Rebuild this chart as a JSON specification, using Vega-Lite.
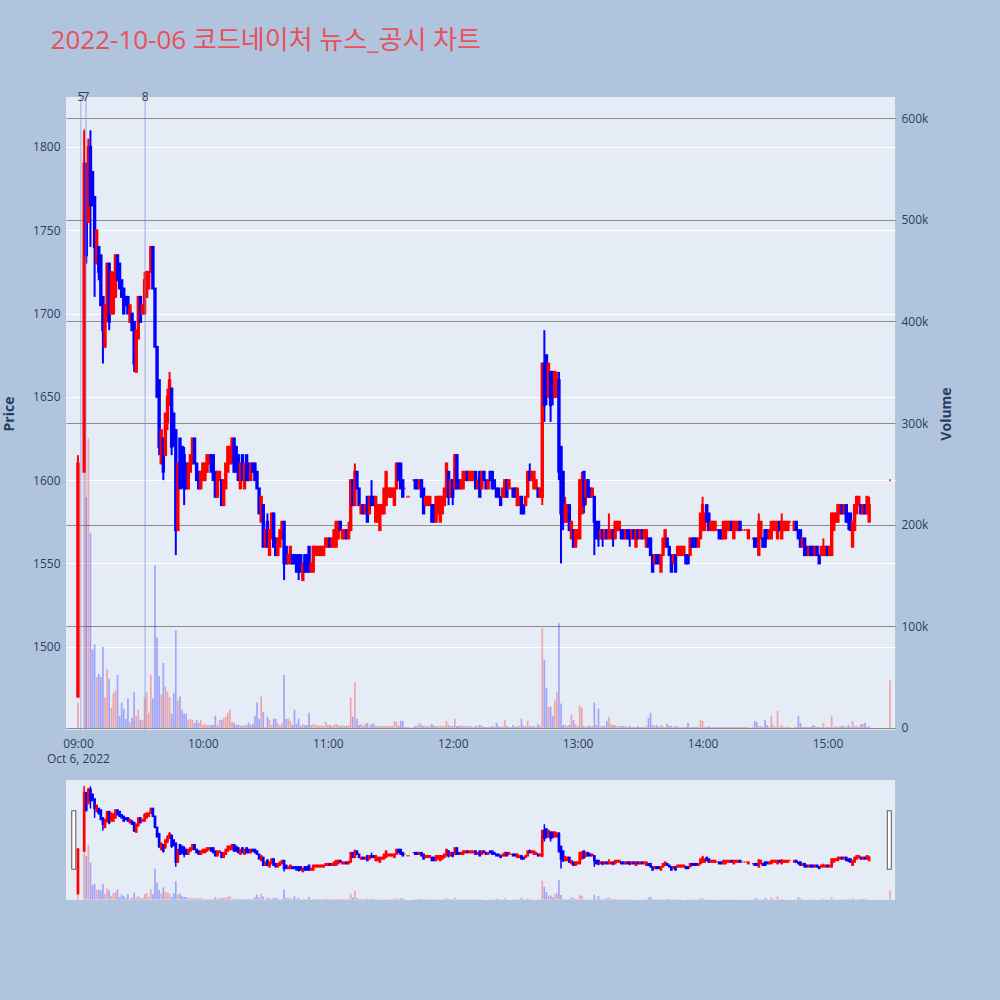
{
  "$schema": "https://vega.github.io/schema/vega-lite/v6.json",
  "description": "Minute candlestick chart with volume and news markers, with a range-slider style overview underneath.",
  "background": "#B0C4DE",
  "padding": {"left": 2, "top": 28, "right": 46, "bottom": 100},
  "spacing": 16,
  "title": {
    "text": "2022-10-06 코드네이처 뉴스_공시 차트",
    "anchor": "start",
    "dx": 48,
    "offset": 37,
    "fontSize": 26,
    "fontWeight": "normal",
    "font": "Open Sans, Noto Sans CJK KR, sans-serif",
    "color": "#e8505b"
  },
  "config": {
    "view": {"fill": "#E5ECF6", "stroke": null},
    "font": "Open Sans, Noto Sans CJK KR, sans-serif",
    "axis": {
      "labelFontSize": 12,
      "labelColor": "#2a3f5f",
      "titleColor": "#2a3f5f",
      "titleFontSize": 14,
      "titleFontWeight": "bold",
      "domain": false,
      "ticks": false
    }
  },
  "datasets": {
    "news": [
      {"t": "2022-10-06T09:01:25", "n": "5"},
      {"t": "2022-10-06T09:03:50", "n": "7"},
      {"t": "2022-10-06T09:32:15", "n": "8"}
    ],
    "bars": [
      {"t":"2022-10-06T09:00","o":1470,"h":1615,"l":1470,"c":1610,"v":25000},
      {"t":"2022-10-06T09:03","o":1605,"h":1810,"l":1605,"c":1790,"v":590000},
      {"t":"2022-10-06T09:04","o":1790,"h":1790,"l":1730,"c":1735,"v":227000},
      {"t":"2022-10-06T09:05","o":1755,"h":1805,"l":1755,"c":1800,"v":285000},
      {"t":"2022-10-06T09:06","o":1800,"h":1810,"l":1740,"c":1765,"v":192000},
      {"t":"2022-10-06T09:07","o":1785,"h":1785,"l":1765,"c":1765,"v":77000},
      {"t":"2022-10-06T09:08","o":1770,"h":1770,"l":1710,"c":1740,"v":82000},
      {"t":"2022-10-06T09:09","o":1730,"h":1750,"l":1730,"c":1750,"v":50000},
      {"t":"2022-10-06T09:10","o":1740,"h":1740,"l":1720,"c":1725,"v":53000},
      {"t":"2022-10-06T09:11","o":1735,"h":1735,"l":1705,"c":1705,"v":50000},
      {"t":"2022-10-06T09:12","o":1710,"h":1710,"l":1670,"c":1690,"v":80000},
      {"t":"2022-10-06T09:13","o":1680,"h":1705,"l":1680,"c":1705,"v":30000},
      {"t":"2022-10-06T09:14","o":1700,"h":1730,"l":1695,"c":1730,"v":58000},
      {"t":"2022-10-06T09:15","o":1730,"h":1730,"l":1690,"c":1695,"v":48000},
      {"t":"2022-10-06T09:16","o":1700,"h":1725,"l":1700,"c":1725,"v":20000},
      {"t":"2022-10-06T09:17","o":1700,"h":1725,"l":1700,"c":1720,"v":34000},
      {"t":"2022-10-06T09:18","o":1710,"h":1735,"l":1710,"c":1735,"v":37000},
      {"t":"2022-10-06T09:19","o":1735,"h":1735,"l":1720,"c":1720,"v":52000},
      {"t":"2022-10-06T09:20","o":1730,"h":1730,"l":1715,"c":1715,"v":12000},
      {"t":"2022-10-06T09:21","o":1720,"h":1720,"l":1710,"c":1710,"v":25000},
      {"t":"2022-10-06T09:22","o":1715,"h":1715,"l":1700,"c":1700,"v":19000},
      {"t":"2022-10-06T09:23","o":1710,"h":1710,"l":1705,"c":1705,"v":9000},
      {"t":"2022-10-06T09:24","o":1710,"h":1710,"l":1700,"c":1700,"v":29000},
      {"t":"2022-10-06T09:25","o":1695,"h":1705,"l":1695,"c":1705,"v":6000},
      {"t":"2022-10-06T09:26","o":1700,"h":1700,"l":1690,"c":1690,"v":10000},
      {"t":"2022-10-06T09:27","o":1695,"h":1695,"l":1665,"c":1670,"v":35000},
      {"t":"2022-10-06T09:28","o":1665,"h":1690,"l":1665,"c":1690,"v":12000},
      {"t":"2022-10-06T09:29","o":1685,"h":1710,"l":1685,"c":1710,"v":18000},
      {"t":"2022-10-06T09:30","o":1710,"h":1710,"l":1695,"c":1695,"v":8000},
      {"t":"2022-10-06T09:31","o":1700,"h":1705,"l":1700,"c":1705,"v":8000},
      {"t":"2022-10-06T09:32","o":1700,"h":1725,"l":1700,"c":1720,"v":30000},
      {"t":"2022-10-06T09:33","o":1710,"h":1725,"l":1710,"c":1725,"v":35000},
      {"t":"2022-10-06T09:34","o":1715,"h":1725,"l":1715,"c":1725,"v":15000},
      {"t":"2022-10-06T09:35","o":1725,"h":1740,"l":1725,"c":1740,"v":52000},
      {"t":"2022-10-06T09:36","o":1740,"h":1740,"l":1715,"c":1715,"v":29000},
      {"t":"2022-10-06T09:37","o":1715,"h":1715,"l":1680,"c":1680,"v":160000},
      {"t":"2022-10-06T09:38","o":1680,"h":1680,"l":1650,"c":1650,"v":89000},
      {"t":"2022-10-06T09:39","o":1660,"h":1660,"l":1615,"c":1620,"v":51000},
      {"t":"2022-10-06T09:40","o":1610,"h":1630,"l":1610,"c":1630,"v":33000},
      {"t":"2022-10-06T09:41","o":1625,"h":1625,"l":1600,"c":1605,"v":64000},
      {"t":"2022-10-06T09:42","o":1615,"h":1640,"l":1615,"c":1640,"v":41000},
      {"t":"2022-10-06T09:43","o":1635,"h":1655,"l":1630,"c":1650,"v":36000},
      {"t":"2022-10-06T09:44","o":1645,"h":1665,"l":1645,"c":1660,"v":30000},
      {"t":"2022-10-06T09:45","o":1655,"h":1655,"l":1615,"c":1620,"v":14000},
      {"t":"2022-10-06T09:46","o":1640,"h":1640,"l":1620,"c":1625,"v":34000},
      {"t":"2022-10-06T09:47","o":1630,"h":1630,"l":1555,"c":1570,"v":96000},
      {"t":"2022-10-06T09:48","o":1570,"h":1610,"l":1570,"c":1610,"v":27000},
      {"t":"2022-10-06T09:49","o":1625,"h":1625,"l":1595,"c":1595,"v":31000},
      {"t":"2022-10-06T09:50","o":1620,"h":1620,"l":1595,"c":1600,"v":18000},
      {"t":"2022-10-06T09:51","o":1615,"h":1620,"l":1585,"c":1595,"v":14000},
      {"t":"2022-10-06T09:52","o":1610,"h":1610,"l":1595,"c":1595,"v":14000},
      {"t":"2022-10-06T09:53","o":1595,"h":1610,"l":1595,"c":1610,"v":8000},
      {"t":"2022-10-06T09:54","o":1605,"h":1615,"l":1605,"c":1615,"v":9000},
      {"t":"2022-10-06T09:55","o":1610,"h":1625,"l":1610,"c":1625,"v":8000},
      {"t":"2022-10-06T09:56","o":1625,"h":1625,"l":1610,"c":1610,"v":5000},
      {"t":"2022-10-06T09:57","o":1610,"h":1610,"l":1600,"c":1600,"v":8000},
      {"t":"2022-10-06T09:58","o":1605,"h":1605,"l":1595,"c":1595,"v":5000},
      {"t":"2022-10-06T09:59","o":1595,"h":1605,"l":1595,"c":1605,"v":8000},
      {"t":"2022-10-06T10:00","o":1600,"h":1610,"l":1600,"c":1610,"v":3000},
      {"t":"2022-10-06T10:01","o":1600,"h":1610,"l":1600,"c":1610,"v":4000},
      {"t":"2022-10-06T10:02","o":1605,"h":1615,"l":1605,"c":1615,"v":3000},
      {"t":"2022-10-06T10:03","o":1610,"h":1615,"l":1610,"c":1615,"v":3000},
      {"t":"2022-10-06T10:04","o":1615,"h":1615,"l":1605,"c":1605,"v":3000},
      {"t":"2022-10-06T10:05","o":1615,"h":1615,"l":1600,"c":1600,"v":3000},
      {"t":"2022-10-06T10:06","o":1605,"h":1605,"l":1590,"c":1590,"v":12000},
      {"t":"2022-10-06T10:07","o":1590,"h":1605,"l":1590,"c":1605,"v":3000},
      {"t":"2022-10-06T10:08","o":1600,"h":1605,"l":1600,"c":1605,"v":8000},
      {"t":"2022-10-06T10:09","o":1600,"h":1600,"l":1585,"c":1585,"v":8000},
      {"t":"2022-10-06T10:10","o":1585,"h":1600,"l":1585,"c":1600,"v":10000},
      {"t":"2022-10-06T10:11","o":1595,"h":1610,"l":1595,"c":1610,"v":11000},
      {"t":"2022-10-06T10:12","o":1605,"h":1620,"l":1605,"c":1620,"v":15000},
      {"t":"2022-10-06T10:13","o":1610,"h":1620,"l":1610,"c":1620,"v":18000},
      {"t":"2022-10-06T10:14","o":1610,"h":1625,"l":1610,"c":1625,"v":6000},
      {"t":"2022-10-06T10:15","o":1625,"h":1625,"l":1605,"c":1605,"v":5000},
      {"t":"2022-10-06T10:16","o":1620,"h":1620,"l":1605,"c":1605,"v":3000},
      {"t":"2022-10-06T10:17","o":1615,"h":1615,"l":1600,"c":1600,"v":3000},
      {"t":"2022-10-06T10:18","o":1595,"h":1610,"l":1595,"c":1610,"v":3000},
      {"t":"2022-10-06T10:19","o":1615,"h":1615,"l":1600,"c":1600,"v":2000},
      {"t":"2022-10-06T10:20","o":1595,"h":1610,"l":1595,"c":1610,"v":3000},
      {"t":"2022-10-06T10:21","o":1615,"h":1615,"l":1600,"c":1600,"v":3000},
      {"t":"2022-10-06T10:22","o":1610,"h":1610,"l":1600,"c":1600,"v":5000},
      {"t":"2022-10-06T10:23","o":1600,"h":1610,"l":1600,"c":1610,"v":3000},
      {"t":"2022-10-06T10:24","o":1610,"h":1610,"l":1605,"c":1605,"v":4000},
      {"t":"2022-10-06T10:25","o":1610,"h":1610,"l":1600,"c":1600,"v":12000},
      {"t":"2022-10-06T10:26","o":1605,"h":1605,"l":1595,"c":1595,"v":25000},
      {"t":"2022-10-06T10:27","o":1595,"h":1595,"l":1580,"c":1580,"v":9000},
      {"t":"2022-10-06T10:28","o":1575,"h":1590,"l":1575,"c":1590,"v":31000},
      {"t":"2022-10-06T10:29","o":1585,"h":1585,"l":1560,"c":1560,"v":16000},
      {"t":"2022-10-06T10:30","o":1560,"h":1570,"l":1560,"c":1570,"v":1000},
      {"t":"2022-10-06T10:31","o":1575,"h":1580,"l":1560,"c":1560,"v":11000},
      {"t":"2022-10-06T10:32","o":1555,"h":1570,"l":1555,"c":1570,"v":8000},
      {"t":"2022-10-06T10:33","o":1565,"h":1580,"l":1565,"c":1580,"v":3000},
      {"t":"2022-10-06T10:34","o":1580,"h":1580,"l":1560,"c":1560,"v":9000},
      {"t":"2022-10-06T10:35","o":1565,"h":1565,"l":1555,"c":1555,"v":9000},
      {"t":"2022-10-06T10:36","o":1555,"h":1565,"l":1555,"c":1565,"v":5000},
      {"t":"2022-10-06T10:37","o":1560,"h":1570,"l":1560,"c":1570,"v":3000},
      {"t":"2022-10-06T10:38","o":1565,"h":1575,"l":1565,"c":1575,"v":5000},
      {"t":"2022-10-06T10:39","o":1575,"h":1575,"l":1540,"c":1550,"v":52000},
      {"t":"2022-10-06T10:40","o":1560,"h":1560,"l":1550,"c":1550,"v":9000},
      {"t":"2022-10-06T10:41","o":1550,"h":1555,"l":1550,"c":1555,"v":9000},
      {"t":"2022-10-06T10:42","o":1550,"h":1560,"l":1550,"c":1560,"v":7000},
      {"t":"2022-10-06T10:43","o":1555,"h":1555,"l":1550,"c":1550,"v":3000},
      {"t":"2022-10-06T10:44","o":1555,"h":1555,"l":1550,"c":1550,"v":18000},
      {"t":"2022-10-06T10:45","o":1555,"h":1555,"l":1545,"c":1545,"v":4000},
      {"t":"2022-10-06T10:46","o":1555,"h":1555,"l":1540,"c":1545,"v":9000},
      {"t":"2022-10-06T10:47","o":1555,"h":1555,"l":1545,"c":1545,"v":2000},
      {"t":"2022-10-06T10:48","o":1540,"h":1550,"l":1540,"c":1550,"v":4000},
      {"t":"2022-10-06T10:49","o":1555,"h":1555,"l":1545,"c":1545,"v":3000},
      {"t":"2022-10-06T10:50","o":1555,"h":1555,"l":1545,"c":1545,"v":3000},
      {"t":"2022-10-06T10:51","o":1560,"h":1560,"l":1545,"c":1545,"v":15000},
      {"t":"2022-10-06T10:52","o":1545,"h":1550,"l":1545,"c":1550,"v":3000},
      {"t":"2022-10-06T10:53","o":1545,"h":1560,"l":1545,"c":1560,"v":4000},
      {"t":"2022-10-06T10:54","o":1555,"h":1560,"l":1555,"c":1560,"v":3000},
      {"t":"2022-10-06T10:55","o":1555,"h":1560,"l":1555,"c":1560,"v":3000},
      {"t":"2022-10-06T10:56","o":1555,"h":1560,"l":1555,"c":1560,"v":2000},
      {"t":"2022-10-06T10:57","o":1555,"h":1560,"l":1555,"c":1560,"v":3000},
      {"t":"2022-10-06T10:58","o":1555,"h":1560,"l":1555,"c":1560,"v":2000},
      {"t":"2022-10-06T10:59","o":1560,"h":1565,"l":1560,"c":1565,"v":6000},
      {"t":"2022-10-06T11:00","o":1560,"h":1565,"l":1560,"c":1565,"v":3000},
      {"t":"2022-10-06T11:01","o":1565,"h":1565,"l":1560,"c":1560,"v":3000},
      {"t":"2022-10-06T11:02","o":1560,"h":1565,"l":1560,"c":1565,"v":2000},
      {"t":"2022-10-06T11:03","o":1560,"h":1570,"l":1560,"c":1570,"v":3000},
      {"t":"2022-10-06T11:04","o":1560,"h":1575,"l":1560,"c":1575,"v":4000},
      {"t":"2022-10-06T11:05","o":1565,"h":1575,"l":1565,"c":1575,"v":3000},
      {"t":"2022-10-06T11:06","o":1575,"h":1575,"l":1570,"c":1570,"v":2000},
      {"t":"2022-10-06T11:07","o":1565,"h":1570,"l":1565,"c":1570,"v":3000},
      {"t":"2022-10-06T11:08","o":1565,"h":1570,"l":1565,"c":1570,"v":2000},
      {"t":"2022-10-06T11:09","o":1570,"h":1570,"l":1565,"c":1565,"v":2000},
      {"t":"2022-10-06T11:10","o":1565,"h":1575,"l":1565,"c":1570,"v":3000},
      {"t":"2022-10-06T11:11","o":1570,"h":1600,"l":1570,"c":1600,"v":30000},
      {"t":"2022-10-06T11:12","o":1600,"h":1600,"l":1585,"c":1585,"v":11000},
      {"t":"2022-10-06T11:13","o":1585,"h":1610,"l":1585,"c":1605,"v":45000},
      {"t":"2022-10-06T11:14","o":1605,"h":1605,"l":1595,"c":1595,"v":9000},
      {"t":"2022-10-06T11:15","o":1595,"h":1595,"l":1585,"c":1585,"v":3000},
      {"t":"2022-10-06T11:16","o":1580,"h":1585,"l":1580,"c":1585,"v":4000},
      {"t":"2022-10-06T11:17","o":1585,"h":1585,"l":1580,"c":1580,"v":2000},
      {"t":"2022-10-06T11:18","o":1580,"h":1585,"l":1580,"c":1585,"v":4000},
      {"t":"2022-10-06T11:19","o":1590,"h":1590,"l":1575,"c":1575,"v":5000},
      {"t":"2022-10-06T11:20","o":1580,"h":1590,"l":1580,"c":1590,"v":2000},
      {"t":"2022-10-06T11:21","o":1590,"h":1600,"l":1585,"c":1585,"v":4000},
      {"t":"2022-10-06T11:22","o":1590,"h":1590,"l":1585,"c":1585,"v":4000},
      {"t":"2022-10-06T11:23","o":1575,"h":1590,"l":1575,"c":1590,"v":2000},
      {"t":"2022-10-06T11:24","o":1575,"h":1585,"l":1575,"c":1585,"v":2000},
      {"t":"2022-10-06T11:25","o":1570,"h":1585,"l":1570,"c":1585,"v":2000},
      {"t":"2022-10-06T11:26","o":1580,"h":1585,"l":1580,"c":1585,"v":2000},
      {"t":"2022-10-06T11:27","o":1580,"h":1595,"l":1580,"c":1595,"v":2000},
      {"t":"2022-10-06T11:28","o":1585,"h":1605,"l":1585,"c":1605,"v":2000},
      {"t":"2022-10-06T11:29","o":1590,"h":1595,"l":1590,"c":1595,"v":2000},
      {"t":"2022-10-06T11:30","o":1590,"h":1595,"l":1590,"c":1595,"v":2000},
      {"t":"2022-10-06T11:31","o":1590,"h":1595,"l":1590,"c":1595,"v":2000},
      {"t":"2022-10-06T11:32","o":1585,"h":1595,"l":1585,"c":1595,"v":7000},
      {"t":"2022-10-06T11:33","o":1595,"h":1610,"l":1595,"c":1610,"v":6000},
      {"t":"2022-10-06T11:34","o":1610,"h":1610,"l":1600,"c":1600,"v":2000},
      {"t":"2022-10-06T11:35","o":1610,"h":1610,"l":1595,"c":1595,"v":7000},
      {"t":"2022-10-06T11:36","o":1600,"h":1600,"l":1590,"c":1590,"v":7000},
      {"t":"2022-10-06T11:37","o":1595,"h":1595,"l":1595,"c":1595,"v":1000},
      {"t":"2022-10-06T11:38","o":1590,"h":1590,"l":1590,"c":1590,"v":1000},
      {"t":"2022-10-06T11:39","o":1590,"h":1590,"l":1590,"c":1590,"v":1000},
      {"t":"2022-10-06T11:41","o":1600,"h":1600,"l":1600,"c":1600,"v":1000},
      {"t":"2022-10-06T11:42","o":1600,"h":1600,"l":1595,"c":1595,"v":2000},
      {"t":"2022-10-06T11:43","o":1600,"h":1600,"l":1595,"c":1595,"v":2000},
      {"t":"2022-10-06T11:44","o":1595,"h":1600,"l":1595,"c":1600,"v":5000},
      {"t":"2022-10-06T11:45","o":1600,"h":1600,"l":1590,"c":1590,"v":3000},
      {"t":"2022-10-06T11:46","o":1595,"h":1595,"l":1580,"c":1580,"v":2000},
      {"t":"2022-10-06T11:47","o":1585,"h":1590,"l":1585,"c":1590,"v":2000},
      {"t":"2022-10-06T11:48","o":1585,"h":1590,"l":1585,"c":1590,"v":2000},
      {"t":"2022-10-06T11:49","o":1585,"h":1590,"l":1585,"c":1590,"v":2000},
      {"t":"2022-10-06T11:50","o":1585,"h":1585,"l":1575,"c":1575,"v":4000},
      {"t":"2022-10-06T11:51","o":1585,"h":1585,"l":1575,"c":1575,"v":2000},
      {"t":"2022-10-06T11:52","o":1575,"h":1590,"l":1575,"c":1590,"v":2000},
      {"t":"2022-10-06T11:53","o":1580,"h":1590,"l":1580,"c":1590,"v":2000},
      {"t":"2022-10-06T11:54","o":1575,"h":1590,"l":1575,"c":1590,"v":2000},
      {"t":"2022-10-06T11:55","o":1580,"h":1590,"l":1580,"c":1590,"v":2000},
      {"t":"2022-10-06T11:56","o":1585,"h":1595,"l":1585,"c":1595,"v":2000},
      {"t":"2022-10-06T11:57","o":1590,"h":1610,"l":1590,"c":1610,"v":7000},
      {"t":"2022-10-06T11:58","o":1605,"h":1605,"l":1585,"c":1590,"v":3000},
      {"t":"2022-10-06T11:59","o":1590,"h":1600,"l":1590,"c":1600,"v":2000},
      {"t":"2022-10-06T12:00","o":1600,"h":1600,"l":1585,"c":1590,"v":2000},
      {"t":"2022-10-06T12:01","o":1595,"h":1615,"l":1595,"c":1615,"v":9000},
      {"t":"2022-10-06T12:02","o":1615,"h":1615,"l":1595,"c":1595,"v":2000},
      {"t":"2022-10-06T12:03","o":1600,"h":1600,"l":1595,"c":1595,"v":2000},
      {"t":"2022-10-06T12:04","o":1595,"h":1600,"l":1595,"c":1600,"v":3000},
      {"t":"2022-10-06T12:05","o":1595,"h":1605,"l":1595,"c":1605,"v":2000},
      {"t":"2022-10-06T12:06","o":1600,"h":1605,"l":1600,"c":1605,"v":2000},
      {"t":"2022-10-06T12:07","o":1605,"h":1605,"l":1600,"c":1600,"v":2000},
      {"t":"2022-10-06T12:08","o":1600,"h":1605,"l":1600,"c":1605,"v":2000},
      {"t":"2022-10-06T12:09","o":1600,"h":1605,"l":1600,"c":1605,"v":2000},
      {"t":"2022-10-06T12:10","o":1600,"h":1605,"l":1600,"c":1605,"v":1000},
      {"t":"2022-10-06T12:11","o":1605,"h":1605,"l":1595,"c":1595,"v":2000},
      {"t":"2022-10-06T12:12","o":1595,"h":1600,"l":1595,"c":1600,"v":2000},
      {"t":"2022-10-06T12:13","o":1605,"h":1605,"l":1590,"c":1590,"v":3000},
      {"t":"2022-10-06T12:14","o":1595,"h":1605,"l":1595,"c":1605,"v":2000},
      {"t":"2022-10-06T12:15","o":1605,"h":1605,"l":1600,"c":1600,"v":1000},
      {"t":"2022-10-06T12:16","o":1600,"h":1600,"l":1595,"c":1595,"v":1000},
      {"t":"2022-10-06T12:17","o":1595,"h":1600,"l":1595,"c":1600,"v":1000},
      {"t":"2022-10-06T12:18","o":1605,"h":1605,"l":1600,"c":1600,"v":1000},
      {"t":"2022-10-06T12:19","o":1605,"h":1605,"l":1595,"c":1595,"v":2000},
      {"t":"2022-10-06T12:20","o":1600,"h":1600,"l":1595,"c":1595,"v":1000},
      {"t":"2022-10-06T12:21","o":1595,"h":1595,"l":1590,"c":1590,"v":5000},
      {"t":"2022-10-06T12:22","o":1595,"h":1595,"l":1590,"c":1590,"v":2000},
      {"t":"2022-10-06T12:23","o":1590,"h":1590,"l":1585,"c":1585,"v":1000},
      {"t":"2022-10-06T12:24","o":1590,"h":1595,"l":1590,"c":1595,"v":2000},
      {"t":"2022-10-06T12:25","o":1590,"h":1600,"l":1590,"c":1600,"v":8000},
      {"t":"2022-10-06T12:26","o":1600,"h":1600,"l":1590,"c":1590,"v":2000},
      {"t":"2022-10-06T12:27","o":1595,"h":1600,"l":1595,"c":1600,"v":1000},
      {"t":"2022-10-06T12:28","o":1595,"h":1595,"l":1595,"c":1595,"v":1000},
      {"t":"2022-10-06T12:29","o":1595,"h":1595,"l":1590,"c":1590,"v":3000},
      {"t":"2022-10-06T12:30","o":1595,"h":1595,"l":1590,"c":1590,"v":1000},
      {"t":"2022-10-06T12:31","o":1585,"h":1595,"l":1585,"c":1595,"v":2000},
      {"t":"2022-10-06T12:32","o":1585,"h":1590,"l":1585,"c":1590,"v":2000},
      {"t":"2022-10-06T12:33","o":1590,"h":1590,"l":1580,"c":1580,"v":9000},
      {"t":"2022-10-06T12:34","o":1585,"h":1585,"l":1580,"c":1580,"v":2000},
      {"t":"2022-10-06T12:35","o":1585,"h":1590,"l":1585,"c":1590,"v":2000},
      {"t":"2022-10-06T12:36","o":1590,"h":1605,"l":1590,"c":1605,"v":7000},
      {"t":"2022-10-06T12:37","o":1605,"h":1610,"l":1600,"c":1600,"v":2000},
      {"t":"2022-10-06T12:38","o":1600,"h":1605,"l":1600,"c":1605,"v":2000},
      {"t":"2022-10-06T12:39","o":1595,"h":1605,"l":1595,"c":1605,"v":2000},
      {"t":"2022-10-06T12:40","o":1595,"h":1600,"l":1595,"c":1600,"v":1000},
      {"t":"2022-10-06T12:41","o":1595,"h":1595,"l":1590,"c":1590,"v":4000},
      {"t":"2022-10-06T12:42","o":1590,"h":1595,"l":1590,"c":1595,"v":2000},
      {"t":"2022-10-06T12:43","o":1590,"h":1670,"l":1585,"c":1670,"v":98000},
      {"t":"2022-10-06T12:44","o":1670,"h":1690,"l":1635,"c":1645,"v":67000},
      {"t":"2022-10-06T12:45","o":1675,"h":1675,"l":1645,"c":1650,"v":39000},
      {"t":"2022-10-06T12:46","o":1650,"h":1670,"l":1650,"c":1670,"v":21000},
      {"t":"2022-10-06T12:47","o":1665,"h":1665,"l":1635,"c":1645,"v":21000},
      {"t":"2022-10-06T12:48","o":1665,"h":1665,"l":1645,"c":1650,"v":12000},
      {"t":"2022-10-06T12:49","o":1650,"h":1665,"l":1650,"c":1665,"v":27000},
      {"t":"2022-10-06T12:50","o":1650,"h":1665,"l":1650,"c":1660,"v":35000},
      {"t":"2022-10-06T12:51","o":1660,"h":1665,"l":1600,"c":1605,"v":103000},
      {"t":"2022-10-06T12:52","o":1620,"h":1620,"l":1550,"c":1580,"v":24000},
      {"t":"2022-10-06T12:53","o":1605,"h":1605,"l":1570,"c":1575,"v":3000},
      {"t":"2022-10-06T12:54","o":1575,"h":1590,"l":1575,"c":1585,"v":3000},
      {"t":"2022-10-06T12:55","o":1575,"h":1585,"l":1575,"c":1585,"v":2000},
      {"t":"2022-10-06T12:56","o":1585,"h":1585,"l":1570,"c":1570,"v":3000},
      {"t":"2022-10-06T12:57","o":1565,"h":1575,"l":1565,"c":1575,"v":13000},
      {"t":"2022-10-06T12:58","o":1570,"h":1570,"l":1560,"c":1560,"v":8000},
      {"t":"2022-10-06T12:59","o":1560,"h":1570,"l":1560,"c":1570,"v":4000},
      {"t":"2022-10-06T13:00","o":1565,"h":1570,"l":1565,"c":1570,"v":2000},
      {"t":"2022-10-06T13:01","o":1565,"h":1600,"l":1565,"c":1600,"v":22000},
      {"t":"2022-10-06T13:02","o":1580,"h":1605,"l":1580,"c":1600,"v":20000},
      {"t":"2022-10-06T13:03","o":1605,"h":1605,"l":1580,"c":1585,"v":2000},
      {"t":"2022-10-06T13:04","o":1590,"h":1600,"l":1585,"c":1600,"v":1000},
      {"t":"2022-10-06T13:05","o":1600,"h":1600,"l":1590,"c":1590,"v":2000},
      {"t":"2022-10-06T13:06","o":1595,"h":1595,"l":1590,"c":1590,"v":2000},
      {"t":"2022-10-06T13:07","o":1590,"h":1595,"l":1590,"c":1595,"v":2000},
      {"t":"2022-10-06T13:08","o":1590,"h":1590,"l":1555,"c":1575,"v":25000},
      {"t":"2022-10-06T13:09","o":1575,"h":1575,"l":1565,"c":1565,"v":3000},
      {"t":"2022-10-06T13:10","o":1575,"h":1575,"l":1560,"c":1565,"v":19000},
      {"t":"2022-10-06T13:11","o":1565,"h":1570,"l":1565,"c":1570,"v":2000},
      {"t":"2022-10-06T13:12","o":1570,"h":1570,"l":1560,"c":1565,"v":2000},
      {"t":"2022-10-06T13:13","o":1565,"h":1570,"l":1565,"c":1570,"v":2000},
      {"t":"2022-10-06T13:14","o":1570,"h":1570,"l":1565,"c":1565,"v":7000},
      {"t":"2022-10-06T13:15","o":1565,"h":1580,"l":1565,"c":1570,"v":11000},
      {"t":"2022-10-06T13:16","o":1565,"h":1570,"l":1565,"c":1570,"v":4000},
      {"t":"2022-10-06T13:17","o":1570,"h":1570,"l":1560,"c":1565,"v":3000},
      {"t":"2022-10-06T13:18","o":1565,"h":1575,"l":1565,"c":1575,"v":3000},
      {"t":"2022-10-06T13:19","o":1570,"h":1575,"l":1570,"c":1575,"v":2000},
      {"t":"2022-10-06T13:20","o":1570,"h":1575,"l":1570,"c":1575,"v":2000},
      {"t":"2022-10-06T13:21","o":1570,"h":1570,"l":1565,"c":1565,"v":2000},
      {"t":"2022-10-06T13:22","o":1570,"h":1570,"l":1565,"c":1565,"v":2000},
      {"t":"2022-10-06T13:23","o":1565,"h":1570,"l":1565,"c":1570,"v":2000},
      {"t":"2022-10-06T13:24","o":1570,"h":1570,"l":1565,"c":1565,"v":1000},
      {"t":"2022-10-06T13:25","o":1570,"h":1570,"l":1560,"c":1565,"v":2000},
      {"t":"2022-10-06T13:26","o":1565,"h":1570,"l":1565,"c":1570,"v":1000},
      {"t":"2022-10-06T13:27","o":1570,"h":1570,"l":1565,"c":1565,"v":1000},
      {"t":"2022-10-06T13:28","o":1560,"h":1570,"l":1560,"c":1570,"v":1000},
      {"t":"2022-10-06T13:29","o":1570,"h":1570,"l":1565,"c":1565,"v":2000},
      {"t":"2022-10-06T13:30","o":1565,"h":1570,"l":1565,"c":1570,"v":1000},
      {"t":"2022-10-06T13:31","o":1570,"h":1570,"l":1565,"c":1565,"v":1000},
      {"t":"2022-10-06T13:32","o":1565,"h":1570,"l":1565,"c":1570,"v":1000},
      {"t":"2022-10-06T13:33","o":1560,"h":1570,"l":1560,"c":1570,"v":2000},
      {"t":"2022-10-06T13:34","o":1565,"h":1565,"l":1560,"c":1560,"v":10000},
      {"t":"2022-10-06T13:35","o":1565,"h":1565,"l":1555,"c":1555,"v":15000},
      {"t":"2022-10-06T13:36","o":1555,"h":1555,"l":1545,"c":1545,"v":3000},
      {"t":"2022-10-06T13:37","o":1550,"h":1555,"l":1550,"c":1555,"v":2000},
      {"t":"2022-10-06T13:38","o":1555,"h":1555,"l":1550,"c":1550,"v":3000},
      {"t":"2022-10-06T13:39","o":1555,"h":1555,"l":1550,"c":1550,"v":1000},
      {"t":"2022-10-06T13:40","o":1545,"h":1555,"l":1545,"c":1555,"v":3000},
      {"t":"2022-10-06T13:41","o":1555,"h":1565,"l":1555,"c":1565,"v":2000},
      {"t":"2022-10-06T13:42","o":1560,"h":1570,"l":1560,"c":1570,"v":1000},
      {"t":"2022-10-06T13:43","o":1565,"h":1565,"l":1560,"c":1560,"v":4000},
      {"t":"2022-10-06T13:44","o":1560,"h":1560,"l":1555,"c":1555,"v":2000},
      {"t":"2022-10-06T13:45","o":1555,"h":1555,"l":1545,"c":1545,"v":2000},
      {"t":"2022-10-06T13:46","o":1550,"h":1555,"l":1550,"c":1555,"v":1000},
      {"t":"2022-10-06T13:47","o":1555,"h":1555,"l":1545,"c":1545,"v":2000},
      {"t":"2022-10-06T13:48","o":1555,"h":1560,"l":1555,"c":1560,"v":2000},
      {"t":"2022-10-06T13:49","o":1555,"h":1560,"l":1555,"c":1560,"v":1000},
      {"t":"2022-10-06T13:50","o":1555,"h":1560,"l":1555,"c":1560,"v":1000},
      {"t":"2022-10-06T13:51","o":1555,"h":1560,"l":1555,"c":1560,"v":1000},
      {"t":"2022-10-06T13:52","o":1555,"h":1555,"l":1550,"c":1550,"v":1000},
      {"t":"2022-10-06T13:53","o":1555,"h":1555,"l":1550,"c":1550,"v":5000},
      {"t":"2022-10-06T13:54","o":1555,"h":1565,"l":1555,"c":1565,"v":1000},
      {"t":"2022-10-06T13:55","o":1565,"h":1565,"l":1560,"c":1560,"v":1000},
      {"t":"2022-10-06T13:56","o":1565,"h":1565,"l":1560,"c":1560,"v":1000},
      {"t":"2022-10-06T13:57","o":1565,"h":1565,"l":1560,"c":1560,"v":1000},
      {"t":"2022-10-06T13:58","o":1560,"h":1565,"l":1560,"c":1565,"v":1000},
      {"t":"2022-10-06T13:59","o":1565,"h":1580,"l":1565,"c":1580,"v":8000},
      {"t":"2022-10-06T14:00","o":1570,"h":1590,"l":1570,"c":1585,"v":7000},
      {"t":"2022-10-06T14:01","o":1570,"h":1580,"l":1570,"c":1580,"v":1000},
      {"t":"2022-10-06T14:02","o":1585,"h":1585,"l":1575,"c":1575,"v":1000},
      {"t":"2022-10-06T14:03","o":1580,"h":1580,"l":1570,"c":1570,"v":2000},
      {"t":"2022-10-06T14:04","o":1570,"h":1575,"l":1570,"c":1575,"v":1000},
      {"t":"2022-10-06T14:05","o":1570,"h":1575,"l":1570,"c":1575,"v":1000},
      {"t":"2022-10-06T14:06","o":1570,"h":1575,"l":1570,"c":1575,"v":1000},
      {"t":"2022-10-06T14:07","o":1570,"h":1570,"l":1570,"c":1570,"v":1000},
      {"t":"2022-10-06T14:08","o":1570,"h":1570,"l":1565,"c":1565,"v":1000},
      {"t":"2022-10-06T14:09","o":1570,"h":1570,"l":1565,"c":1565,"v":1000},
      {"t":"2022-10-06T14:10","o":1565,"h":1575,"l":1565,"c":1575,"v":1000},
      {"t":"2022-10-06T14:11","o":1565,"h":1575,"l":1565,"c":1575,"v":1000},
      {"t":"2022-10-06T14:12","o":1570,"h":1575,"l":1570,"c":1575,"v":1000},
      {"t":"2022-10-06T14:13","o":1570,"h":1575,"l":1570,"c":1575,"v":1000},
      {"t":"2022-10-06T14:14","o":1575,"h":1575,"l":1570,"c":1570,"v":1000},
      {"t":"2022-10-06T14:15","o":1565,"h":1575,"l":1565,"c":1575,"v":1000},
      {"t":"2022-10-06T14:16","o":1570,"h":1575,"l":1570,"c":1575,"v":1000},
      {"t":"2022-10-06T14:17","o":1570,"h":1575,"l":1570,"c":1575,"v":1000},
      {"t":"2022-10-06T14:18","o":1575,"h":1575,"l":1570,"c":1570,"v":1000},
      {"t":"2022-10-06T14:19","o":1570,"h":1570,"l":1570,"c":1570,"v":1000},
      {"t":"2022-10-06T14:20","o":1570,"h":1570,"l":1570,"c":1570,"v":1000},
      {"t":"2022-10-06T14:21","o":1570,"h":1570,"l":1570,"c":1570,"v":1000},
      {"t":"2022-10-06T14:22","o":1565,"h":1570,"l":1565,"c":1570,"v":1000},
      {"t":"2022-10-06T14:24","o":1565,"h":1565,"l":1565,"c":1565,"v":1000},
      {"t":"2022-10-06T14:25","o":1565,"h":1565,"l":1560,"c":1560,"v":7000},
      {"t":"2022-10-06T14:26","o":1565,"h":1565,"l":1560,"c":1560,"v":6000},
      {"t":"2022-10-06T14:27","o":1555,"h":1580,"l":1555,"c":1575,"v":2000},
      {"t":"2022-10-06T14:28","o":1565,"h":1575,"l":1565,"c":1575,"v":2000},
      {"t":"2022-10-06T14:29","o":1565,"h":1565,"l":1560,"c":1560,"v":1000},
      {"t":"2022-10-06T14:30","o":1570,"h":1570,"l":1560,"c":1560,"v":8000},
      {"t":"2022-10-06T14:31","o":1570,"h":1570,"l":1565,"c":1565,"v":3000},
      {"t":"2022-10-06T14:32","o":1565,"h":1570,"l":1565,"c":1570,"v":1000},
      {"t":"2022-10-06T14:33","o":1565,"h":1575,"l":1565,"c":1575,"v":12000},
      {"t":"2022-10-06T14:34","o":1570,"h":1575,"l":1570,"c":1575,"v":3000},
      {"t":"2022-10-06T14:35","o":1570,"h":1575,"l":1570,"c":1575,"v":1000},
      {"t":"2022-10-06T14:36","o":1565,"h":1575,"l":1565,"c":1575,"v":17000},
      {"t":"2022-10-06T14:37","o":1575,"h":1575,"l":1570,"c":1570,"v":1000},
      {"t":"2022-10-06T14:38","o":1565,"h":1580,"l":1565,"c":1575,"v":3000},
      {"t":"2022-10-06T14:39","o":1570,"h":1575,"l":1570,"c":1575,"v":1000},
      {"t":"2022-10-06T14:40","o":1570,"h":1575,"l":1570,"c":1575,"v":1000},
      {"t":"2022-10-06T14:41","o":1570,"h":1575,"l":1570,"c":1575,"v":1000},
      {"t":"2022-10-06T14:42","o":1575,"h":1575,"l":1575,"c":1575,"v":1000},
      {"t":"2022-10-06T14:44","o":1570,"h":1575,"l":1570,"c":1575,"v":1000},
      {"t":"2022-10-06T14:45","o":1575,"h":1575,"l":1570,"c":1570,"v":1000},
      {"t":"2022-10-06T14:46","o":1570,"h":1570,"l":1565,"c":1565,"v":12000},
      {"t":"2022-10-06T14:47","o":1570,"h":1570,"l":1560,"c":1560,"v":5000},
      {"t":"2022-10-06T14:48","o":1560,"h":1565,"l":1560,"c":1565,"v":1000},
      {"t":"2022-10-06T14:49","o":1565,"h":1565,"l":1555,"c":1555,"v":1000},
      {"t":"2022-10-06T14:50","o":1560,"h":1560,"l":1555,"c":1555,"v":1000},
      {"t":"2022-10-06T14:51","o":1555,"h":1560,"l":1555,"c":1560,"v":1000},
      {"t":"2022-10-06T14:52","o":1560,"h":1560,"l":1555,"c":1555,"v":1000},
      {"t":"2022-10-06T14:53","o":1560,"h":1560,"l":1555,"c":1555,"v":3000},
      {"t":"2022-10-06T14:54","o":1555,"h":1560,"l":1555,"c":1560,"v":2000},
      {"t":"2022-10-06T14:55","o":1560,"h":1560,"l":1555,"c":1555,"v":1000},
      {"t":"2022-10-06T14:56","o":1555,"h":1555,"l":1550,"c":1550,"v":1000},
      {"t":"2022-10-06T14:57","o":1555,"h":1560,"l":1555,"c":1560,"v":1000},
      {"t":"2022-10-06T14:58","o":1555,"h":1565,"l":1555,"c":1560,"v":5000},
      {"t":"2022-10-06T14:59","o":1555,"h":1560,"l":1555,"c":1560,"v":1000},
      {"t":"2022-10-06T15:00","o":1560,"h":1560,"l":1555,"c":1555,"v":1000},
      {"t":"2022-10-06T15:01","o":1555,"h":1560,"l":1555,"c":1560,"v":1000},
      {"t":"2022-10-06T15:02","o":1555,"h":1580,"l":1555,"c":1580,"v":12000},
      {"t":"2022-10-06T15:03","o":1570,"h":1580,"l":1570,"c":1580,"v":1000},
      {"t":"2022-10-06T15:04","o":1575,"h":1580,"l":1575,"c":1580,"v":2000},
      {"t":"2022-10-06T15:05","o":1575,"h":1585,"l":1575,"c":1585,"v":1000},
      {"t":"2022-10-06T15:06","o":1580,"h":1585,"l":1580,"c":1585,"v":2000},
      {"t":"2022-10-06T15:07","o":1585,"h":1585,"l":1580,"c":1580,"v":2000},
      {"t":"2022-10-06T15:08","o":1580,"h":1585,"l":1580,"c":1585,"v":2000},
      {"t":"2022-10-06T15:09","o":1585,"h":1585,"l":1575,"c":1575,"v":1000},
      {"t":"2022-10-06T15:10","o":1580,"h":1580,"l":1570,"c":1575,"v":3000},
      {"t":"2022-10-06T15:11","o":1580,"h":1580,"l":1570,"c":1570,"v":1000},
      {"t":"2022-10-06T15:12","o":1560,"h":1575,"l":1560,"c":1575,"v":7000},
      {"t":"2022-10-06T15:13","o":1570,"h":1585,"l":1570,"c":1585,"v":2000},
      {"t":"2022-10-06T15:14","o":1580,"h":1590,"l":1580,"c":1590,"v":2000},
      {"t":"2022-10-06T15:15","o":1585,"h":1590,"l":1585,"c":1590,"v":1000},
      {"t":"2022-10-06T15:16","o":1585,"h":1585,"l":1580,"c":1580,"v":4000},
      {"t":"2022-10-06T15:17","o":1580,"h":1585,"l":1580,"c":1585,"v":4000},
      {"t":"2022-10-06T15:18","o":1585,"h":1585,"l":1580,"c":1580,"v":5000},
      {"t":"2022-10-06T15:19","o":1580,"h":1590,"l":1580,"c":1590,"v":1000},
      {"t":"2022-10-06T15:20","o":1575,"h":1590,"l":1575,"c":1585,"v":2000},
      {"t":"2022-10-06T15:30","o":1600,"h":1600,"l":1600,"c":1600,"v":47000}
    ]
  },
  "vconcat": [
    {
      "width": 829,
      "height": 633,
      "layer": [
        {
          "data": {"name": "bars"},
          "mark": {"type": "bar", "size": 1.7, "opacity": 0.3},
          "encoding": {
            "x": {
              "field": "t",
              "type": "temporal",
              "scale": {"domain": [
                {"year": 2022, "month": 10, "date": 6, "hours": 8, "minutes": 56, "seconds": 40},
                {"year": 2022, "month": 10, "date": 6, "hours": 15, "minutes": 30}
              ]},
              "axis": {
                "title": null,
                "grid": false,
                "values": [
                  {"year": 2022, "month": 10, "date": 6, "hours": 9},
                  {"year": 2022, "month": 10, "date": 6, "hours": 10},
                  {"year": 2022, "month": 10, "date": 6, "hours": 11},
                  {"year": 2022, "month": 10, "date": 6, "hours": 12},
                  {"year": 2022, "month": 10, "date": 6, "hours": 13},
                  {"year": 2022, "month": 10, "date": 6, "hours": 14},
                  {"year": 2022, "month": 10, "date": 6, "hours": 15}
                ],
                "labelExpr": "hours(datum.value) == 9 ? [timeFormat(datum.value, '%H:%M'), timeFormat(datum.value, '%b %-d, %Y')] : timeFormat(datum.value, '%H:%M')",
                "labelPadding": 8,
                "labelLineHeight": 15,
                "labelFlush": false
              }
            },
            "y": {
              "field": "v",
              "type": "quantitative",
              "scale": {"domain": [-2000, 620700], "nice": false, "zero": false},
              "axis": {
                "orient": "right",
                "title": "Volume",
                "titleAngle": 270,
                "titleBaseline": "top",
                "values": [0, 100000, 200000, 300000, 400000, 500000, 600000],
                "labelExpr": "datum.value == 0 ? '0' : format(datum.value, '~s')",
                "grid": true,
                "gridColor": "#8c8c8c",
                "gridWidth": 1.2,
                "labelPadding": 6,
                "titlePadding": 12
              }
            },
            "color": {"condition": {"test": "datum.c >= datum.o", "value": "#ff0000"}, "value": "#0000ff"}
          }
        },
        {
          "data": {"name": "bars"},
          "mark": {"type": "rule", "strokeWidth": 2},
          "encoding": {
            "x": {"field": "t", "type": "temporal"},
            "y": {
              "field": "l",
              "type": "quantitative",
              "scale": {"domain": [1450, 1830], "nice": false, "zero": false},
              "axis": {
                "title": "Price",
                "values": [1500, 1550, 1600, 1650, 1700, 1750, 1800],
                "format": "d",
                "grid": true,
                "gridColor": "#ffffff",
                "labelPadding": 6,
                "titlePadding": 16
              }
            },
            "y2": {"field": "h"},
            "color": {"condition": {"test": "datum.c >= datum.o", "value": "#ff0000"}, "value": "#0000ff"}
          }
        },
        {
          "data": {"name": "bars"},
          "mark": {"type": "bar", "size": 1.4, "strokeWidth": 2, "fillOpacity": 0.6},
          "encoding": {
            "x": {"field": "t", "type": "temporal"},
            "y": {"field": "o", "type": "quantitative", "scale": {"domain": [1450, 1830], "nice": false, "zero": false}, "axis": null},
            "y2": {"field": "c"},
            "fill": {"condition": {"test": "datum.c >= datum.o", "value": "#ff0000"}, "value": "#0000ff"},
            "stroke": {"condition": {"test": "datum.c >= datum.o", "value": "#ff0000"}, "value": "#0000ff"}
          }
        },
        {
          "data": {"name": "news"},
          "mark": {"type": "rule", "strokeWidth": 1, "color": "#7b8fdc", "opacity": 0.7},
          "encoding": {
            "x": {"field": "t", "type": "temporal"}
          }
        },
        {
          "data": {"name": "news"},
          "mark": {"type": "text", "fontSize": 12, "color": "#2a3f5f", "baseline": "middle"},
          "encoding": {
            "x": {"field": "t", "type": "temporal"},
            "y": {"datum": 1830, "type": "quantitative", "scale": {"domain": [1450, 1830], "nice": false, "zero": false}, "axis": null},
            "text": {"field": "n"}
          }
        }
      ],
      "resolve": {"scale": {"y": "independent"}}
    },
    {
      "width": 829,
      "height": 120,
      "layer": [
        {
          "data": {"name": "bars"},
          "mark": {"type": "bar", "size": 1.7, "opacity": 0.3},
          "encoding": {
            "x": {
              "field": "t",
              "type": "temporal",
              "scale": {"domain": [
                {"year": 2022, "month": 10, "date": 6, "hours": 8, "minutes": 56, "seconds": 40},
                {"year": 2022, "month": 10, "date": 6, "hours": 15, "minutes": 30}
              ]},
              "axis": null
            },
            "y": {"field": "v", "type": "quantitative", "scale": {"domain": [-2000, 620700], "nice": false, "zero": false}, "axis": null},
            "color": {"condition": {"test": "datum.c >= datum.o", "value": "#ff0000"}, "value": "#0000ff"}
          }
        },
        {
          "data": {"name": "bars"},
          "mark": {"type": "rule", "strokeWidth": 1.5},
          "encoding": {
            "x": {"field": "t", "type": "temporal"},
            "y": {
              "field": "l",
              "type": "quantitative",
              "scale": {"domain": [1450, 1830], "nice": false, "zero": false},
              "axis": {
                "title": "Price",
                "titleColor": "transparent",
                "labelColor": "transparent",
                "values": [1500, 1800],
                "format": "d",
                "grid": false,
                "labelPadding": 6,
                "titlePadding": 16
              }
            },
            "y2": {"field": "h"},
            "color": {"condition": {"test": "datum.c >= datum.o", "value": "#ff0000"}, "value": "#0000ff"}
          }
        },
        {
          "data": {"name": "bars"},
          "mark": {"type": "bar", "size": 1.2, "strokeWidth": 1.5, "fillOpacity": 0.6},
          "encoding": {
            "x": {"field": "t", "type": "temporal"},
            "y": {"field": "o", "type": "quantitative", "scale": {"domain": [1450, 1830], "nice": false, "zero": false}, "axis": null},
            "y2": {"field": "c"},
            "fill": {"condition": {"test": "datum.c >= datum.o", "value": "#ff0000"}, "value": "#0000ff"},
            "stroke": {"condition": {"test": "datum.c >= datum.o", "value": "#ff0000"}, "value": "#0000ff"}
          }
        },
        {
          "data": {"values": [{"t": "2022-10-06T08:58:00"}, {"t": "2022-10-06T15:29:40"}]},
          "mark": {"type": "rule", "strokeWidth": 5, "color": "#555555"},
          "encoding": {
            "x": {"field": "t", "type": "temporal"},
            "y": {"datum": 1546, "type": "quantitative", "scale": {"domain": [1450, 1830], "nice": false, "zero": false}, "axis": null},
            "y2": {"datum": 1734}
          }
        },
        {
          "data": {"values": [{"t": "2022-10-06T08:58:00"}, {"t": "2022-10-06T15:29:40"}]},
          "mark": {"type": "rule", "strokeWidth": 3, "color": "#ffffff"},
          "encoding": {
            "x": {"field": "t", "type": "temporal"},
            "y": {"datum": 1549, "type": "quantitative", "scale": {"domain": [1450, 1830], "nice": false, "zero": false}, "axis": null},
            "y2": {"datum": 1731}
          }
        }
      ],
      "resolve": {"scale": {"y": "independent"}}
    }
  ]
}
